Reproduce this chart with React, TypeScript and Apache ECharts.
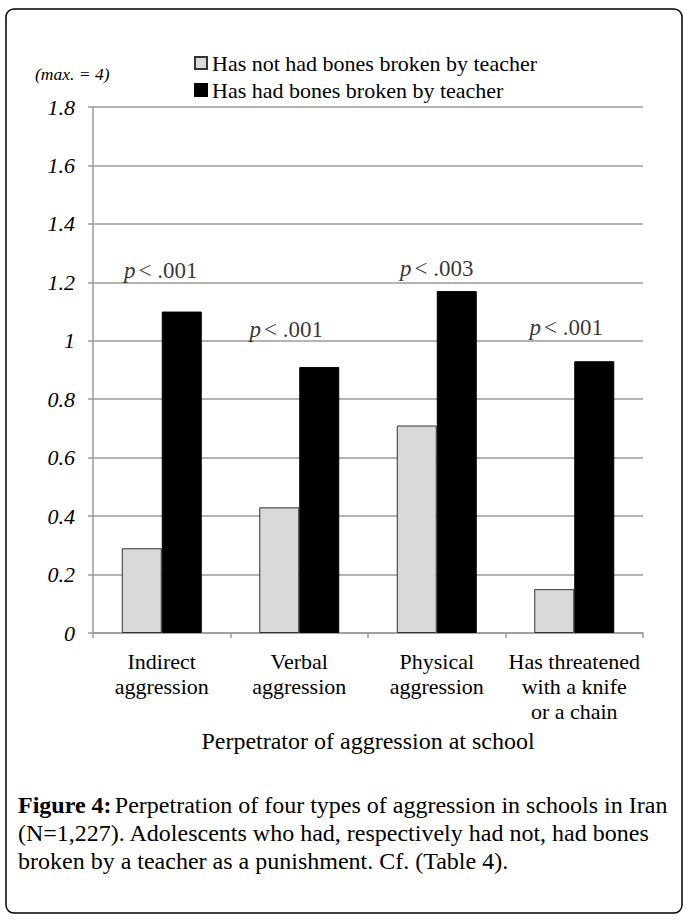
import React, { useEffect, useRef } from "react";
import * as echarts from "echarts";

const categories = [
  "Indirect\naggression",
  "Verbal\naggression",
  "Physical\naggression",
  "Has threatened\nwith a knife\nor a chain",
];
const seriesNames = [
  "Has not had bones broken by teacher",
  "Has had bones broken by teacher",
];
const notBroken = [0.29, 0.43, 0.71, 0.15];
const broken = [1.1, 0.91, 1.17, 0.93];
const pValues = [".001", ".001", ".003", ".001"];
const yTicks = { min: 0, max: 1.8, interval: 0.2 };
const captionLines = [
  "Perpetration of four types of aggression in schools in Iran",
  "(N=1,227). Adolescents who had, respectively had not, had bones",
  "broken by a teacher as a punishment. Cf. (Table 4).",
];

// label placement (positions kept out of data arrays)
const pLabelLevel = [1.242, 1.037, 1.249, 1.044];
const pLabelDx = [-1, -13, 0, -8];

const SERIF = "'Liberation Serif', 'Times New Roman', serif";

export default function App() {
  const ref = useRef<HTMLDivElement>(null);
  useEffect(() => {
    if (!ref.current) return;
    const chart = echarts.init(ref.current, null, { renderer: "svg" });
    const option: any = {
      animation: false,
      backgroundColor: "#ffffff",
      textStyle: { fontFamily: SERIF },
      grid: { left: 93, right: 44, top: 107, bottom: 286 },
      legend: {
        data: seriesNames,
        orient: "vertical",
        left: 189,
        top: 47,
        itemWidth: 12,
        itemHeight: 12,
        itemGap: 5,
        icon: "rect",
        textStyle: { fontFamily: SERIF, fontSize: 22, color: "#000", lineHeight: 22 },
      },
      xAxis: {
        type: "category",
        data: categories,
        name: "Perpetrator of aggression at school",
        nameLocation: "middle",
        nameGap: 95,
        nameTextStyle: { fontFamily: SERIF, fontSize: 24, color: "#000" },
        axisLine: { lineStyle: { color: "#9a9a9a", width: 1.5 } },
        axisTick: { show: true, alignWithLabel: false, length: 5, lineStyle: { color: "#9a9a9a", width: 1.5 } },
        axisLabel: {
          fontFamily: SERIF,
          fontSize: 22,
          color: "#000",
          lineHeight: 25,
          margin: 16,
          interval: 0,
        },
      },
      yAxis: {
        type: "value",
        min: yTicks.min,
        max: yTicks.max,
        interval: yTicks.interval,
        axisLine: { show: true, lineStyle: { color: "#9a9a9a", width: 1.5 } },
        axisTick: { show: true, length: 5, lineStyle: { color: "#9a9a9a", width: 1.5 } },
        splitLine: { show: true, lineStyle: { color: "#9a9a9a", width: 1.5 } },
        axisLabel: {
          fontFamily: SERIF,
          fontSize: 22,
          fontStyle: "italic",
          color: "#000",
          margin: 18,
        },
      },
      series: [
        {
          name: seriesNames[0],
          type: "bar",
          data: notBroken,
          barWidth: 40,
          barGap: "0%",
          itemStyle: { color: "#d9d9d9", borderColor: "#333", borderWidth: 1 },
        },
        {
          name: seriesNames[1],
          type: "bar",
          data: broken,
          barWidth: 40,
          itemStyle: { color: "#000", borderColor: "#000", borderWidth: 1 },
        },
        {
          name: "p",
          type: "scatter",
          symbolSize: 0,
          silent: true,
          z: 10,
          data: pValues.map((p, i) => ({
            value: [i, pLabelLevel[i]],
            label: { offset: [pLabelDx[i], 0] },
          })),
          label: {
            show: true,
            position: "inside",
            align: "center",
            verticalAlign: "middle",
            formatter: (params: any) => `{i|p} {n|< ${pValues[params.dataIndex]}}`,
            rich: {
              i: { fontFamily: SERIF, fontSize: 23, fontStyle: "italic", color: "#000" },
              n: { fontFamily: SERIF, fontSize: 23, color: "#000" },
            },
          },
        },
      ],
      graphic: [
        {
          type: "rect",
          shape: { x: 6, y: 9, width: 676, height: 904, r: 8 },
          style: { fill: "none", stroke: "#000", lineWidth: 1.5 },
          silent: true,
        },
        {
          type: "text",
          x: 35,
          y: 74,
          style: {
            text: "(max. = 4)",
            fontFamily: SERIF,
            fontSize: 17.5,
            fontStyle: "italic",
            fill: "#000",
            verticalAlign: "middle",
          },
        },
        {
          type: "text",
          x: 18,
          y: 805,
          style: {
            text: "{b|Figure 4:} {n|" + captionLines[0] + "}",
            verticalAlign: "middle",
            rich: {
              b: { fontFamily: SERIF, fontSize: 24, fontWeight: "bold", fill: "#000" },
              n: { fontFamily: SERIF, fontSize: 24, fill: "#000" },
            },
          },
        },
        ...captionLines.slice(1).map((line, i) => ({
          type: "text",
          x: 18,
          y: 833 + i * 28,
          style: {
            text: line,
            fontFamily: SERIF,
            fontSize: 24,
            fill: "#000",
            verticalAlign: "middle",
          },
        })),
      ],
    };
    chart.setOption(option);
    return () => chart.dispose();
  }, []);
  return (
    <div
      ref={ref}
      style={{ position: "absolute", left: 0, top: 0, width: 687, height: 919, background: "#fff" }}
    />
  );
}
